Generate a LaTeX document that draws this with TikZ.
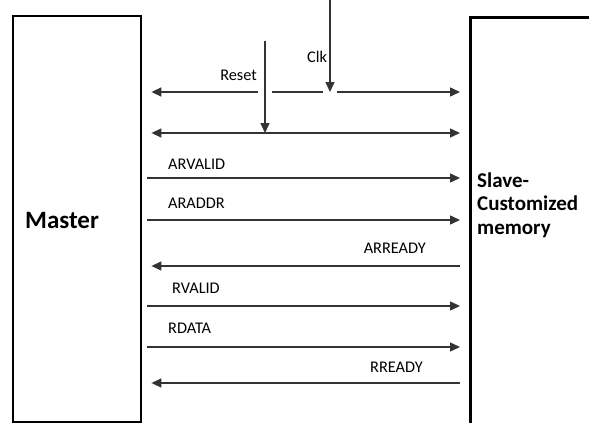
\documentclass[tikz,border=0pt]{standalone}
\usepackage{fontspec}
\setmainfont{Carlito}
\usetikzlibrary{arrows.meta}

\begin{document}
\begin{tikzpicture}[x=1pt, y=-1pt,
  blk/.style={draw, line width=2.8pt},
  wire/.style={line width=1.4pt, draw=black!80},
  sig/.style={wire, -{Triangle[length=10pt, width=9pt]}},
  dsig/.style={wire, {Triangle[length=10pt, width=9pt]}-{Triangle[length=10pt, width=9pt]}},
  lbl/.style={font=\fontsize{16.3}{19}\selectfont, inner sep=0pt}]
\clip (0,0) rectangle (589,423);
\node[blk, minimum width=128pt, minimum height=406pt] (master) at (77,219) {};
\node[blk, minimum width=160pt, minimum height=440pt, anchor=north west] (slave) at (469,16) {};
\node[font=\bfseries\fontsize{25}{28}\selectfont, anchor=west, inner sep=0pt] (mtext) at (25,220) {Master};
\node[font=\bfseries\fontsize{21}{23.5}\selectfont, anchor=west, align=left, inner sep=0pt] (stext) at (477,205) {Slave-\\Customized\\memory};
% clock and reset
\coordinate (clktop) at (330,-5);
\coordinate (clkhit) at (330,92);
\coordinate (rsttop) at (265,41);
\coordinate (rsthit) at (265,133);
\node[lbl] (clk) at (317,57) {Clk};
\node[lbl, anchor=east] (rst) at (257,75) {Reset};
\draw[sig] (clktop) -- (clkhit);
\draw[sig] (rsttop) -- (rsthit);
\draw[sig, shorten <=7pt, shorten >=9pt] (rsttop |- clkhit) -- (master.east |- clkhit);
\draw[wire, shorten <=7pt, shorten >=7pt] (rsttop |- clkhit) -- (clkhit);
\draw[sig, shorten <=7pt, shorten >=9pt] (clkhit) -- (slave.west |- clkhit);
\draw[dsig, shorten <=9pt, shorten >=9pt] (master.east |- rsthit) -- (slave.west |- rsthit);
% master to slave
\foreach \y/\b/\tx/\txt in {178/169/168/ARVALID, 220/208/168/ARADDR, 306/293/172/RVALID, 347/333/168/RDATA}{
  \draw[sig, shorten <=5pt, shorten >=9pt] (master.east |- 0,\y) -- (slave.west |- 0,\y);
  \node[lbl, anchor=base west] at (\tx,\b) {\txt};
}
% slave to master
\foreach \y/\b/\tx/\txt in {266/253/426/ARREADY, 383/372/423/RREADY}{
  \draw[sig, shorten <=9pt, shorten >=9pt] (slave.west |- 0,\y) -- (master.east |- 0,\y);
  \node[lbl, anchor=base east] at (\tx,\b) {\txt};
}
\end{tikzpicture}
\end{document}
